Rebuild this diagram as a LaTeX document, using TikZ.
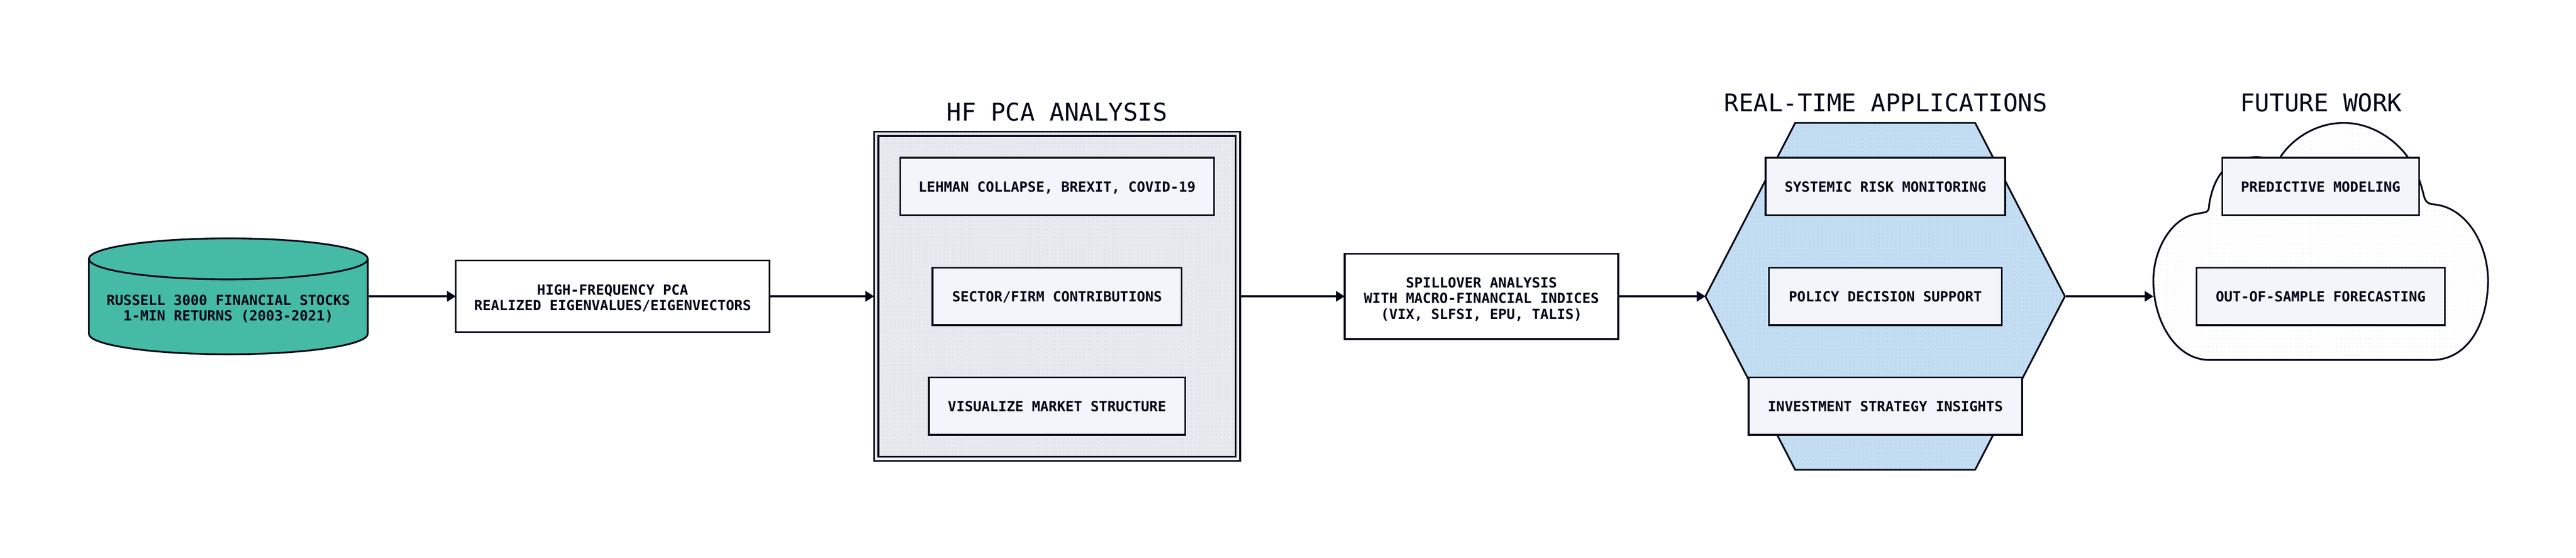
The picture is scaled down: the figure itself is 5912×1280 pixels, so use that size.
\documentclass[tikz,border=0pt]{standalone}
\usepackage{fontspec}
\setmonofont{DejaVu Sans Mono}
\usetikzlibrary{arrows.meta, positioning, patterns, calc}

\definecolor{inkdark}{HTML}{020617}
\definecolor{tealfill}{HTML}{45BBA5}
\definecolor{panelfill}{HTML}{E7E9EF}
\definecolor{hexfill}{HTML}{C3DDF2}
\definecolor{itemfill}{HTML}{F3F5FA}

\pgfdeclarepatternformonly{griddots}{\pgfqpoint{0pt}{0pt}}{\pgfqpoint{10pt}{10pt}}{\pgfqpoint{10pt}{10pt}}{%
	\pgfpathrectangle{\pgfqpoint{6pt}{4pt}}{\pgfqpoint{2pt}{2pt}}%
	\pgfusepath{fill}%
}

\begin{document}
\begin{tikzpicture}[
				x=1pt, y=-1pt,
				every node/.style={inkdark, outer sep=0pt, inner sep=0pt, align=center, font=\ttfamily\bfseries\fontsize{32}{36}\selectfont, text height=25pt, text depth=0pt},
				line width=4pt,
				arrow/.style={-{Triangle[length=20pt, width=24pt]}, draw=inkdark, shorten <=2pt},
				dotted fill/.style={pattern=griddots, pattern color=#1!91!black, preaction={fill=#1}},
				titlenode/.style={font=\ttfamily\fontsize{56}{60}\selectfont, text height=41pt},
				plainbox/.style={draw=inkdark, fill=white},
				itembox/.style={draw=inkdark, fill=itemfill, minimum height=132pt},
				panelbox/.style={draw=inkdark, dotted fill=panelfill, minimum width=840pt, minimum height=756pt},
				ghost/.style={minimum width=#1}
			]
			\useasboundingbox (0,0) rectangle (5912,1280);

			% Stage titles
			\node[titlenode] (pcatitle) at (2426,257) {HF PCA ANALYSIS};
			\node[titlenode] (apptitle) at (4328,236) {REAL-TIME APPLICATIONS};
			\node[titlenode] (futuretitle) at (5327,236) {FUTURE WORK};

			% Data source and first step
			\path[draw=inkdark, fill=tealfill] (204,594) -- (204,766) arc (180:360:320pt and 47pt) -- (844,594);
			\path[draw=inkdark, fill=tealfill] (524,594) ellipse (320pt and 47pt);
			\node[ghost=640pt, minimum height=266pt, text height=113pt] (source) at (524,680) {RUSSELL 3000 FINANCIAL STOCKS\\1-MIN RETURNS (2003-2021)};
			\node[plainbox, minimum width=720pt, minimum height=164pt, text height=65pt] (hfpca) at (1406,680) {HIGH-FREQUENCY PCA\\REALIZED EIGENVALUES/EIGENVECTORS};

			% PCA panel, double border
			\node[panelbox] (panel) at (2426,680) {};
			\node[draw=inkdark, minimum width=820pt, minimum height=736pt] (panelin) at (2426,680) {};
			\node[itembox, minimum width=720pt] (events) at (2426,428) {LEHMAN COLLAPSE, BREXIT, COVID-19};
			\node[itembox, minimum width=572pt] (sectors) at (2426,680) {SECTOR/FIRM CONTRIBUTIONS};
			\node[itembox, minimum width=588pt] (structure) at (2426,932) {VISUALIZE MARKET STRUCTURE};

			\node[plainbox, minimum width=628pt, minimum height=196pt, text height=104pt] (spill) at (3400,680) {SPILLOVER ANALYSIS\\WITH MACRO-FINANCIAL INDICES\\(VIX, SLFSI, EPU, TALIS)};

			% Hexagon
			\node[ghost=825pt, minimum height=796pt] (apps) at (4326.5,680) {};
			\path[draw=inkdark, dotted fill=hexfill] (apps.west) -- ($(apps.north west)+(206,0)$) -- ($(apps.north east)+(-206,0)$) -- (apps.east) -- ($(apps.south east)+(-206,0)$) -- ($(apps.south west)+(206,0)$) -- cycle;
			\node[itembox, minimum width=550pt] (risk) at (4327,428) {SYSTEMIC RISK MONITORING};
			\node[itembox, minimum width=534pt] (policy) at (4327,680) {POLICY DECISION SUPPORT};
			\node[itembox, minimum width=628pt] (strategy) at (4327,932) {INVESTMENT STRATEGY INSIGHTS};

			% Cloud
			\node[ghost=768pt, minimum height=292pt] (future) at (5326,680) {};
			\path[draw=inkdark, dotted fill=white] (5070,826) -- (5582,826)
				.. controls (5665,826) and (5710,740) .. (5710,644)
				.. controls (5710,560) and (5660,475) .. (5585,469)
				.. controls (5572,468) and (5566,462) .. (5563,450)
				.. controls (5558,430) and (5550,400) .. (5535,375)
				.. controls (5510,330) and (5450,282) .. (5379,282)
				.. controls (5310,282) and (5250,325) .. (5225,375)
				.. controls (5220,366) and (5200,360.5) .. (5178,360.5)
				.. controls (5150,360.5) and (5125,368) .. (5102,392)
				.. controls (5090,405) and (5076,430) .. (5070,470)
				.. controls (5070,478) and (5069,484) .. (5062,487)
				-- (5040,491)
				.. controls (4985,500) and (4942,570) .. (4942,644)
				.. controls (4942,740) and (4995,826) .. (5070,826) -- cycle;
			\node[itembox, minimum width=452pt] (predict) at (5326,428) {PREDICTIVE MODELING};
			\node[itembox, minimum width=570pt] (forecast) at (5326,680) {OUT-OF-SAMPLE FORECASTING};

			% Arrows
			\draw[arrow] (source) -- (hfpca);
			\draw[arrow] (hfpca) -- (panel);
			\draw[arrow] (panel) -- (spill);
			\draw[arrow] (spill) -- (apps);
			\draw[arrow] (apps) -- (future);

		\end{tikzpicture}
\end{document}
